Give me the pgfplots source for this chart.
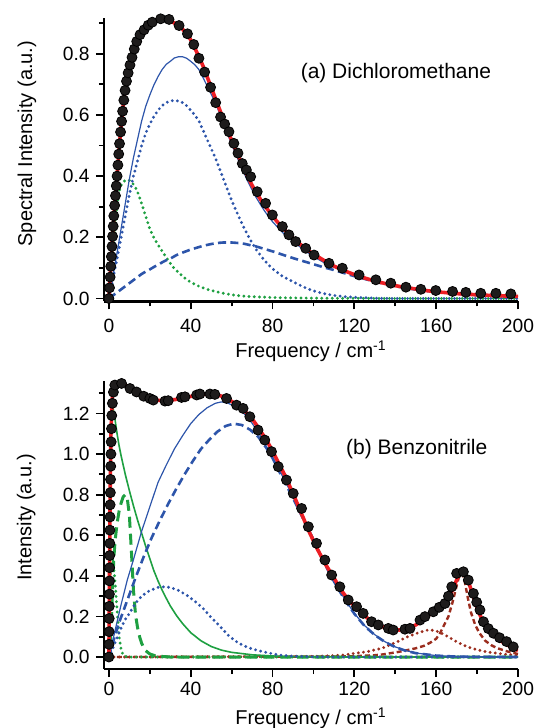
\documentclass[border=0pt]{standalone}
\usepackage{fontspec}
\setmainfont{Liberation Sans}
\usepackage{pgfplots}
\pgfplotsset{compat=1.18}

\definecolor{fitred}{RGB}{236,30,36}
\definecolor{cblue}{RGB}{45,85,170}
\definecolor{cgreen}{RGB}{30,160,65}
\definecolor{cbrown}{RGB}{155,45,30}
\definecolor{dotc}{RGB}{30,28,28}

\pgfplotsset{
  igor/.style={
    scale only axis, width=207pt,
    xmin=-2.4, xmax=200,
    axis x line*=bottom, axis y line*=left,
    axis line style={line width=1.1pt, -},
    tick align=outside,
    major tick length=4pt, minor tick length=2.5pt,
    tick style={black, line width=0.9pt},
    xtick={0,40,...,200}, minor xtick={20,60,...,180},
    tick label style={font=\fontsize{9.6}{11}\selectfont, inner sep=0pt},
    xticklabel style={yshift=-4.5pt},
    yticklabel style={xshift=-3pt},
    label style={font=\fontsize{10}{12}\selectfont},
    /pgf/number format/assume math mode=true,
    y tick label style={/pgf/number format/.cd, fixed, fixed zerofill, precision=1, /tikz/.cd},
    xlabel={Frequency / cm\textsuperscript{-1}},
  },
  pts/.style={only marks, mark=*, mark size=2.5pt, mark options={draw=none, fill=dotc}},
  fit/.style={draw=fitred, line width=1.8pt, line join=round},
  solidc/.style={draw=#1, line width=0.6pt},
  dotc/.style={draw=#1, line width=1.6pt, line cap=round, dash pattern=on 0pt off 2.6pt},
  dashc/.style={draw=#1, line width=1.3pt, dash pattern=on 4pt off 2.2pt},
}

\begin{document}
\begin{tikzpicture}
\useasboundingbox (0,0) rectangle (268.5pt,364pt);

% (a) dichloromethane
\begin{axis}[igor, at={(52pt,213.25pt)}, anchor=south west,
  height=141.75pt, ymin=-0.0098, ymax=0.9167,
  ytick={0,0.2,...,0.8}, minor ytick={0.1,0.3,...,0.9},
  ylabel={Spectral Intensity (a.u.)},
  ylabel style={at={(axis description cs:-0.186,0.557)}, anchor=center},
  xlabel style={at={(axis description cs:0.5,-0.175)}, anchor=center},
]
\addplot[pts] coordinates {
(0,0) (0.3,0.035) (0.6,0.07) (0.9,0.105) (1.2,0.137) (1.5,0.17) (1.8,0.203)
(2.1,0.236) (2.4,0.27) (2.8,0.304) (3.2,0.336) (3.6,0.368) (4.0,0.40) (4.4,0.436)
(4.8,0.472) (5.2,0.506) (5.7,0.544) (6.2,0.579) (6.7,0.612) (7.3,0.648) (7.9,0.68)
(8.6,0.71) (9.4,0.737) (10.3,0.763) (11.3,0.788) (12.4,0.815) (13.6,0.84) (15.2,0.862)
(17.2,0.878) (19.2,0.893) (21.2,0.903) (25.3,0.914) (29.4,0.912) (34.3,0.892) (38.4,0.865)
(41.5,0.83) (44,0.785) (46.8,0.74) (49.7,0.69) (52.2,0.64) (54.6,0.593) (56.6,0.57)
(58.7,0.545) (61.1,0.507) (63.1,0.475) (65.2,0.441) (67.2,0.42) (69.3,0.398) (72.5,0.349)
(76.6,0.311) (79.9,0.273) (84.8,0.235) (88,0.208) (91.3,0.186) (96.2,0.164) (100.3,0.142)
(107.6,0.115) (114.1,0.099) (122.3,0.077) (130.5,0.061) (137.8,0.05) (145.2,0.037)
(152.5,0.03) (159.8,0.026) (168,0.023) (174.5,0.02) (181.8,0.017) (189.2,0.017) (196.5,0.015)
};
% green dotted
\addplot[dotc=cgreen] coordinates {
(0,0) (1,0.09) (2,0.18) (3,0.255) (4,0.31) (5,0.35) (6,0.37) (7,0.381) (8,0.386) (9,0.388)
(10,0.386) (11,0.38) (12,0.373) (13,0.363) (14,0.348) (15,0.33) (16,0.31) (17,0.29) (18,0.268)
(19,0.248) (20,0.228) (22,0.198) (24,0.176) (26,0.155) (28,0.135) (30,0.115) (32,0.098)
(34,0.085) (36,0.073) (38,0.062) (40,0.053) (44,0.04) (48,0.03) (52,0.023) (56,0.017)
(60,0.012) (65,0.008) (70,0.006) (80,0.003) (90,0.002) (100,0.001) (120,0.0005) (140,0) (200,0)
};
% blue dotted
\addplot[dotc=cblue] coordinates {
(0,0) (2,0.065) (4,0.13) (6,0.20) (8,0.27) (10,0.34) (12,0.40) (14,0.45) (16,0.50) (18,0.54)
(20,0.57) (22,0.595) (24,0.615) (26,0.63) (28,0.64) (30,0.645) (32,0.648) (34,0.645) (36,0.64)
(38,0.63) (40,0.615) (42,0.60) (44,0.58) (46,0.55) (48,0.52) (50,0.49) (52,0.46) (54,0.425)
(56,0.39) (58,0.355) (60,0.32) (62,0.29) (64,0.26) (66,0.232) (68,0.205) (70,0.182) (72,0.16)
(74,0.142) (76,0.125) (78,0.11) (80,0.097) (85,0.072) (90,0.055) (95,0.038) (100,0.025)
(105,0.016) (110,0.01) (115,0.006) (120,0.004) (130,0.001) (140,0) (200,0)
};
% blue dashed
\addplot[dashc=cblue] coordinates {
(0,0) (2,0.01) (4,0.02) (6,0.03) (8,0.04) (10,0.05) (12,0.06) (14,0.07) (16,0.08) (18,0.088)
(20,0.095) (22,0.103) (24,0.11) (26,0.118) (28,0.125) (30,0.13) (32,0.138) (34,0.145) (36,0.15)
(38,0.155) (40,0.16) (42,0.164) (44,0.168) (46,0.172) (48,0.175) (50,0.178) (52,0.18) (54,0.182)
(56,0.183) (58,0.183) (60,0.183) (62,0.182) (64,0.181) (66,0.179) (68,0.176) (70,0.173) (72,0.17)
(74,0.166) (76,0.162) (78,0.158) (80,0.154) (85,0.143) (90,0.132) (95,0.122) (100,0.112)
(105,0.102) (110,0.093) (115,0.083) (120,0.073) (130,0.055) (140,0.04) (150,0.029) (160,0.021)
(170,0.015) (180,0.011) (190,0.008) (200,0.006)
};
% blue solid (sum of the blue bands)
\addplot[solidc=cblue] coordinates {
(0,0) (2,0.075) (4,0.15) (6,0.23) (8,0.31) (10,0.39) (12,0.46) (14,0.52) (16,0.58) (18,0.628)
(20,0.665) (22,0.698) (24,0.725) (26,0.748) (28,0.765) (30,0.775) (32,0.786) (34,0.79) (36,0.79)
(38,0.785) (40,0.775) (42,0.764) (44,0.748) (46,0.722) (48,0.695) (50,0.668) (52,0.64) (54,0.607)
(56,0.573) (58,0.538) (60,0.503) (62,0.472) (64,0.441) (66,0.411) (68,0.381) (70,0.355) (72,0.33)
(74,0.308) (76,0.287) (78,0.268) (80,0.251) (85,0.215) (90,0.187) (95,0.16) (100,0.137)
(105,0.118) (110,0.103) (115,0.089) (120,0.077) (130,0.056) (140,0.04) (150,0.029) (160,0.021)
(170,0.015) (180,0.011) (190,0.008) (200,0.006)
};
% total fit
\addplot[fit] coordinates {
(0,0) (0.5,0.06) (1,0.115) (1.5,0.17) (2,0.225) (2.5,0.275) (3,0.32) (3.5,0.36) (4,0.40)
(4.5,0.445) (5,0.49) (5.5,0.53) (6,0.565) (6.5,0.60) (7,0.63) (7.5,0.66) (8,0.685) (9,0.725)
(10,0.755) (11,0.78) (12,0.805) (13,0.827) (14,0.845) (15,0.86) (16,0.87) (17,0.878) (18,0.887)
(19,0.895) (20,0.90) (22,0.907) (24,0.912) (26,0.914) (28,0.913) (30,0.908) (32,0.90) (34,0.892)
(36,0.88) (38,0.865) (40,0.845) (42,0.818) (44,0.79) (46,0.76) (48,0.725) (50,0.69) (52,0.655)
(54,0.62) (56,0.585) (58,0.55) (60,0.517) (62,0.485) (64,0.455) (66,0.425) (68,0.397) (70,0.37)
(72,0.347) (74,0.325) (76,0.305) (78,0.287) (80,0.27) (82,0.253) (84,0.238) (86,0.224) (88,0.21)
(90,0.197) (93,0.18) (96,0.164) (100,0.145) (105,0.125) (110,0.106) (115,0.091) (120,0.078)
(125,0.067) (130,0.057) (135,0.049) (140,0.042) (145,0.036) (150,0.031) (155,0.026) (160,0.022)
(170,0.016) (180,0.012) (190,0.009) (200,0.007)
};
\node[font=\fontsize{10.5}{12}\selectfont] at (axis cs:140.3,0.737) {(a) Dichloromethane};
\end{axis}

% (b) benzonitrile
\begin{axis}[igor, at={(52pt,29.5pt)}, anchor=south west,
  height=144pt, ymin=-0.059, ymax=1.36,
  ytick={0,0.2,...,1.2}, minor ytick={0.1,0.3,...,1.3},
  ylabel={Intensity (a.u.)},
  ylabel style={at={(axis description cs:-0.188,0.526)}, anchor=center},
  xlabel style={at={(axis description cs:0.5,-0.172)}, anchor=center},
  xticklabel style={yshift=2pt},
]
\addplot[pts] coordinates {
(0,0) (0.05,0.0625) (0.1,0.125) (0.15,0.19) (0.2,0.25) (0.25,0.31) (0.3,0.375) (0.35,0.44)
(0.4,0.5) (0.45,0.56) (0.5,0.625) (0.55,0.69) (0.6,0.75) (0.7,0.81) (0.8,0.875) (0.9,0.94)
(1.0,1.0) (1.1,1.06) (1.25,1.125) (1.4,1.19) (1.7,1.25) (2.2,1.305) (2.9,1.34) (6.2,1.348)
(10.3,1.323) (13.5,1.306) (17,1.285) (20,1.274) (21.7,1.266) (27.4,1.261) (29,1.263)
(35.5,1.279) (37.2,1.282) (42.9,1.291) (44.5,1.296) (49.4,1.296) (51.8,1.294) (57.5,1.274)
(62.4,1.241) (65.6,1.225) (68.9,1.184) (72.9,1.118) (76.2,1.069) (79.5,1.012) (82.8,0.938)
(86.8,0.872) (90.1,0.806) (94.2,0.732) (97.5,0.642) (101.5,0.56) (105.6,0.478) (108.9,0.404)
(112.9,0.346) (117,0.281) (121.1,0.248) (124.3,0.215) (128.4,0.174) (131.7,0.158) (136.6,0.141)
(139,0.133) (144.7,0.137) (147.2,0.141) (152.1,0.182) (154.5,0.199) (158.6,0.223) (161.5,0.245)
(164.3,0.264) (166,0.3) (167.6,0.346) (170,0.412) (173.3,0.42) (175.7,0.379) (178.2,0.313)
(179.8,0.27) (181.4,0.232) (183.1,0.174) (185.5,0.14) (188,0.117) (191,0.095) (194.4,0.076)
(197.7,0.05)
};
% brown dotted
\addplot[dotc=cbrown] coordinates {
(0,0) (100,0.003) (105,0.005) (110,0.007) (115,0.01) (120,0.018) (126,0.026) (130,0.035)
(134,0.045) (138,0.062) (142,0.08) (146,0.1) (150,0.115) (154,0.128) (156,0.133) (158,0.132)
(161,0.125) (164,0.11) (167,0.093) (170,0.075) (173,0.06) (176,0.048) (180,0.036) (185,0.025)
(190,0.018) (195,0.012) (200,0.008)
};
% brown dashed
\addplot[draw=cbrown, line width=1.2pt, dash pattern=on 2.5pt off 1.5pt] coordinates {
(0,0) (110,0.002) (120,0.004) (126,0.007) (130,0.009) (134,0.013) (142,0.026) (150,0.043)
(154,0.055) (157,0.07) (160,0.09) (162,0.12) (164,0.16) (166,0.2) (168,0.27) (169.5,0.33)
(171,0.39) (172,0.41) (173,0.405) (174,0.37) (175.5,0.29) (177,0.22) (179,0.16) (181,0.12)
(184,0.08) (187,0.058) (190,0.043) (195,0.027) (200,0.015)
};
% green solid
\addplot[draw=cgreen, line width=0.8pt] coordinates {
(0,0) (0.5,0.6) (1,1.05) (1.5,1.22) (2,1.23) (3,1.17) (4,1.10) (5,1.04) (6,0.99) (8,0.90)
(10,0.82) (12,0.745) (14,0.675) (16,0.61) (18,0.545) (20,0.485) (22,0.425) (24,0.375) (26,0.33)
(28,0.29) (30,0.252) (33,0.205) (36,0.165) (40,0.12) (45,0.08) (50,0.052) (55,0.034) (60,0.023)
(70,0.011) (80,0.005) (90,0.002) (100,0.001) (120,0) (200,0)
};
% green dashed
\addplot[draw=cgreen, line width=1.5pt, dash pattern=on 5.5pt off 3pt] coordinates {
(0,0) (1,0.12) (1.5,0.25) (2,0.40) (2.5,0.50) (3,0.57) (4,0.66) (5,0.72) (6,0.76) (7,0.79)
(8,0.80) (9,0.78) (10,0.70) (11,0.52) (12,0.33) (13,0.21) (14,0.145) (15,0.1) (16,0.068)
(17,0.046) (18,0.031) (20,0.015) (23,0.005) (30,0) (200,0)
};
% green dotted
\addplot[dotc=cgreen] coordinates {
(0,0) (0.5,0.3) (1,0.48) (1.5,0.52) (2,0.47) (3,0.37) (4,0.23) (5,0.1) (6,0.035) (7,0.01)
(8,0.003) (10,0) (200,0)
};
% blue dotted
\addplot[dotc=cblue] coordinates {
(0,0) (2,0.045) (4,0.095) (6,0.145) (8,0.185) (10,0.215) (13,0.265) (16,0.30) (20,0.328)
(24,0.343) (27,0.346) (30,0.343) (34,0.328) (38,0.305) (42,0.275) (46,0.24) (50,0.195)
(54,0.155) (58,0.11) (62,0.078) (66,0.055) (70,0.04) (75,0.027) (80,0.016) (85,0.008)
(90,0.004) (100,0.001) (110,0) (200,0)
};
% blue dashed
\addplot[dashc=cblue] coordinates {
(0,0) (1,0.04) (5,0.17) (9,0.28) (13,0.39) (17,0.494) (21,0.59) (25,0.675) (29,0.755) (33,0.83)
(37,0.90) (41,0.965) (45,1.025) (49,1.07) (53,1.11) (57,1.138) (61,1.15) (65,1.143) (69,1.12)
(73,1.085) (77,1.03) (80,0.98) (85,0.88) (90,0.783) (95,0.68) (100,0.577) (105,0.468)
(110,0.373) (115,0.287) (120,0.213) (125,0.153) (130,0.108) (135,0.074) (140,0.049)
(145,0.031) (150,0.019) (160,0.007) (170,0.002) (180,0.001) (200,0)
};
% blue solid
\addplot[solidc=cblue] coordinates {
(0,0) (3,0.13) (6,0.26) (9,0.38) (12,0.48) (16,0.62) (20,0.74) (24,0.86) (28,0.945) (32,1.025)
(36,1.09) (40,1.15) (44,1.195) (48,1.228) (52,1.25) (55,1.257) (58,1.252) (62,1.232) (66,1.20)
(70,1.152) (74,1.09) (78,1.02) (82,0.945) (86,0.87) (90,0.79) (95,0.69) (100,0.585) (105,0.475)
(110,0.38) (115,0.29) (120,0.215) (125,0.155) (130,0.11) (135,0.075) (140,0.05) (145,0.032)
(150,0.02) (160,0.007) (170,0.003) (180,0.001) (200,0)
};
% total fit
\addplot[fit] coordinates {
(0,0) (0.3,0.4) (0.6,0.8) (1,1.1) (1.5,1.26) (2,1.31) (3,1.34) (4,1.348) (5,1.35) (6,1.348)
(8,1.338) (10,1.325) (12,1.313) (14,1.30) (16,1.288) (18,1.279) (20,1.274) (23,1.266) (26,1.263)
(29,1.264) (32,1.268) (35,1.273) (38,1.28) (41,1.286) (44,1.291) (47,1.295) (50,1.296) (53,1.292)
(56,1.282) (59,1.266) (62,1.247) (65,1.225) (68,1.196) (71,1.16) (74,1.115) (77,1.07) (80,1.015)
(83,0.955) (86,0.895) (90,0.806) (94,0.71) (98,0.615) (102,0.53) (106,0.455) (110,0.39)
(114,0.323) (118,0.27) (122,0.238) (126,0.195) (130,0.162) (134,0.149) (138,0.137) (142,0.133)
(146,0.14) (150,0.158) (154,0.185) (158,0.22) (162,0.245) (164,0.264) (166,0.29) (168,0.33)
(170,0.38) (171.5,0.41) (172.5,0.423) (173.5,0.42) (175,0.39) (177,0.335) (179,0.27) (181,0.215)
(183,0.175) (186,0.133) (189,0.1) (192,0.077) (196,0.052) (200,0.032)
};
\node[font=\fontsize{10.5}{12}\selectfont] at (axis cs:150.5,1.025) {(b) Benzonitrile};
\end{axis}
\end{tikzpicture}
\end{document}
